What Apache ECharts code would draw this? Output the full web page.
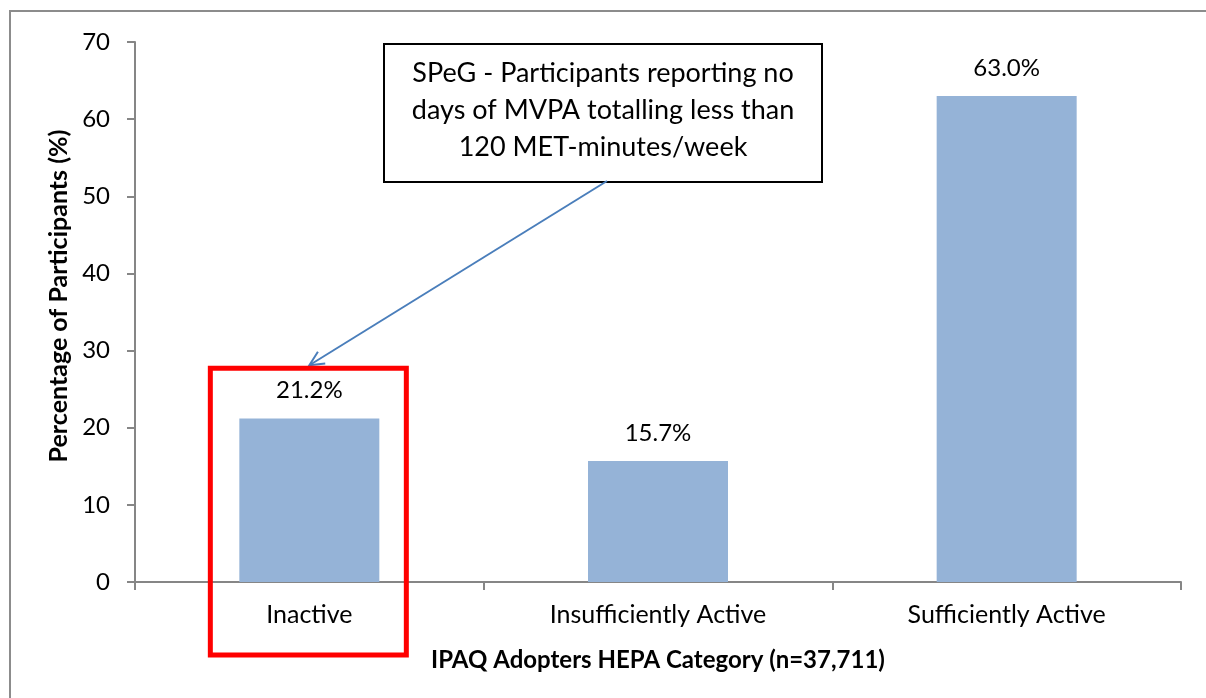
<!DOCTYPE html>
<html>
<head>
<meta charset="utf-8">
<script src="https://cdn.jsdelivr.net/npm/echarts@6/dist/echarts.min.js"></script>
<style>
  html, body { margin: 0; padding: 0; background: #fff; }
  #main { width: 1206px; height: 698px; }
</style>
</head>
<body>
<div id="main"></div>
<script>
const categories = ['Inactive', 'Insufficiently Active', 'Sufficiently Active']
const percents = [21.2, 15.7, 63.0]
const yTicks = [0, 10, 20, 30, 40, 50, 60, 70]
const calloutLines = [
    'SPeG - Participants reporting no',
    'days of MVPA totalling less than',
    '120 MET-minutes/week'
]

const font = 'Lato, "Liberation Sans", sans-serif'
const axisGray = '#868686'

const chart = echarts.init(document.getElementById('main'), null, { renderer: 'canvas' })

let option = {
    animation: false,
    backgroundColor: '#fff',
    grid: { left: 135, right: 25, top: 42, bottom: 116 },
    xAxis: {
        type: 'category',
        data: categories,
        name: 'IPAQ Adopters HEPA Category (n=37,711)',
        nameLocation: 'middle',
        nameGap: 66,
        nameTextStyle: { fontFamily: font, fontSize: 24, fontWeight: 'bold', color: '#000' },
        axisLine: { lineStyle: { color: axisGray, width: 2 } },
        axisTick: { show: true, alignWithLabel: false, length: 8, lineStyle: { color: axisGray, width: 2 } },
        axisLabel: { margin: 20, fontFamily: font, fontSize: 25, color: '#000' }
    },
    yAxis: {
        type: 'value',
        min: yTicks[0],
        max: yTicks[yTicks.length - 1],
        interval: 10,
        name: 'Percentage of Participants (%)',
        nameLocation: 'middle',
        nameGap: 61,
        nameTextStyle: { fontFamily: font, fontSize: 25, fontWeight: 'bold', color: '#000', padding: [0, 0, 0, 32] },
        splitLine: { show: false },
        axisLine: { show: true, lineStyle: { color: axisGray, width: 2 } },
        axisTick: { show: true, length: 8, lineStyle: { color: axisGray, width: 2 } },
        axisLabel: { margin: 25, fontFamily: font, fontSize: 24, color: '#000' }
    },
    series: [
        {
            type: 'bar',
            data: percents,
            barWidth: 140,
            itemStyle: { color: '#95b3d7' },
            label: {
                show: true,
                position: 'top',
                distance: 16,
                fontFamily: font,
                fontSize: 24,
                color: '#000',
                formatter: p => p.value.toFixed(1) + '%'
            }
        }
    ]
}

chart.setOption(option)

// annotations: callout box, arrow to the Inactive bar, red highlight box
const tip = chart.convertToPixel({ seriesIndex: 0 }, [0, 28.1])
const boxTop = chart.convertToPixel({ seriesIndex: 0 }, [0, 27.7])
const axisY = chart.convertToPixel({ seriesIndex: 0 }, [0, 0])[1]
const start = [607, 181]
const ang = Math.atan2(tip[1] - start[1], tip[0] - start[0])
const head = 16
const spread = 0.45
const h1 = [tip[0] - head * Math.cos(ang - spread), tip[1] - head * Math.sin(ang - spread)]
const h2 = [tip[0] - head * Math.cos(ang + spread), tip[1] - head * Math.sin(ang + spread)]

chart.setOption({
    graphic: [
        {
            type: 'rect',
            shape: { x: 10, y: 11, width: 1400, height: 900 },
            style: { fill: 'none', stroke: '#8c8c8c', lineWidth: 2 },
            silent: true
        },
        {
            type: 'rect',
            shape: { x: 384, y: 44, width: 438, height: 138 },
            style: { fill: '#fff', stroke: '#000', lineWidth: 2 },
            z: 10
        },
        {
            type: 'text',
            x: 603,
            y: 55,
            style: {
                text: calloutLines.join('\n'),
                fontFamily: font,
                fontSize: 27,
                lineHeight: 37,
                align: 'center',
                fill: '#000'
            },
            z: 11
        },
        {
            type: 'line',
            shape: { x1: start[0], y1: start[1], x2: tip[0], y2: tip[1] },
            style: { stroke: '#4a7ebb', lineWidth: 2 },
            z: 10
        },
        {
            type: 'polyline',
            shape: { points: [h1, tip, h2] },
            style: { stroke: '#4a7ebb', lineWidth: 2, fill: 'none' },
            z: 10
        },
        {
            type: 'rect',
            shape: { x: tip[0] - 99, y: boxTop[1], width: 196, height: axisY + 73 - boxTop[1] },
            style: { fill: 'none', stroke: '#ff0000', lineWidth: 5 },
            z: 12
        }
    ]
})
</script>
</body>
</html>
